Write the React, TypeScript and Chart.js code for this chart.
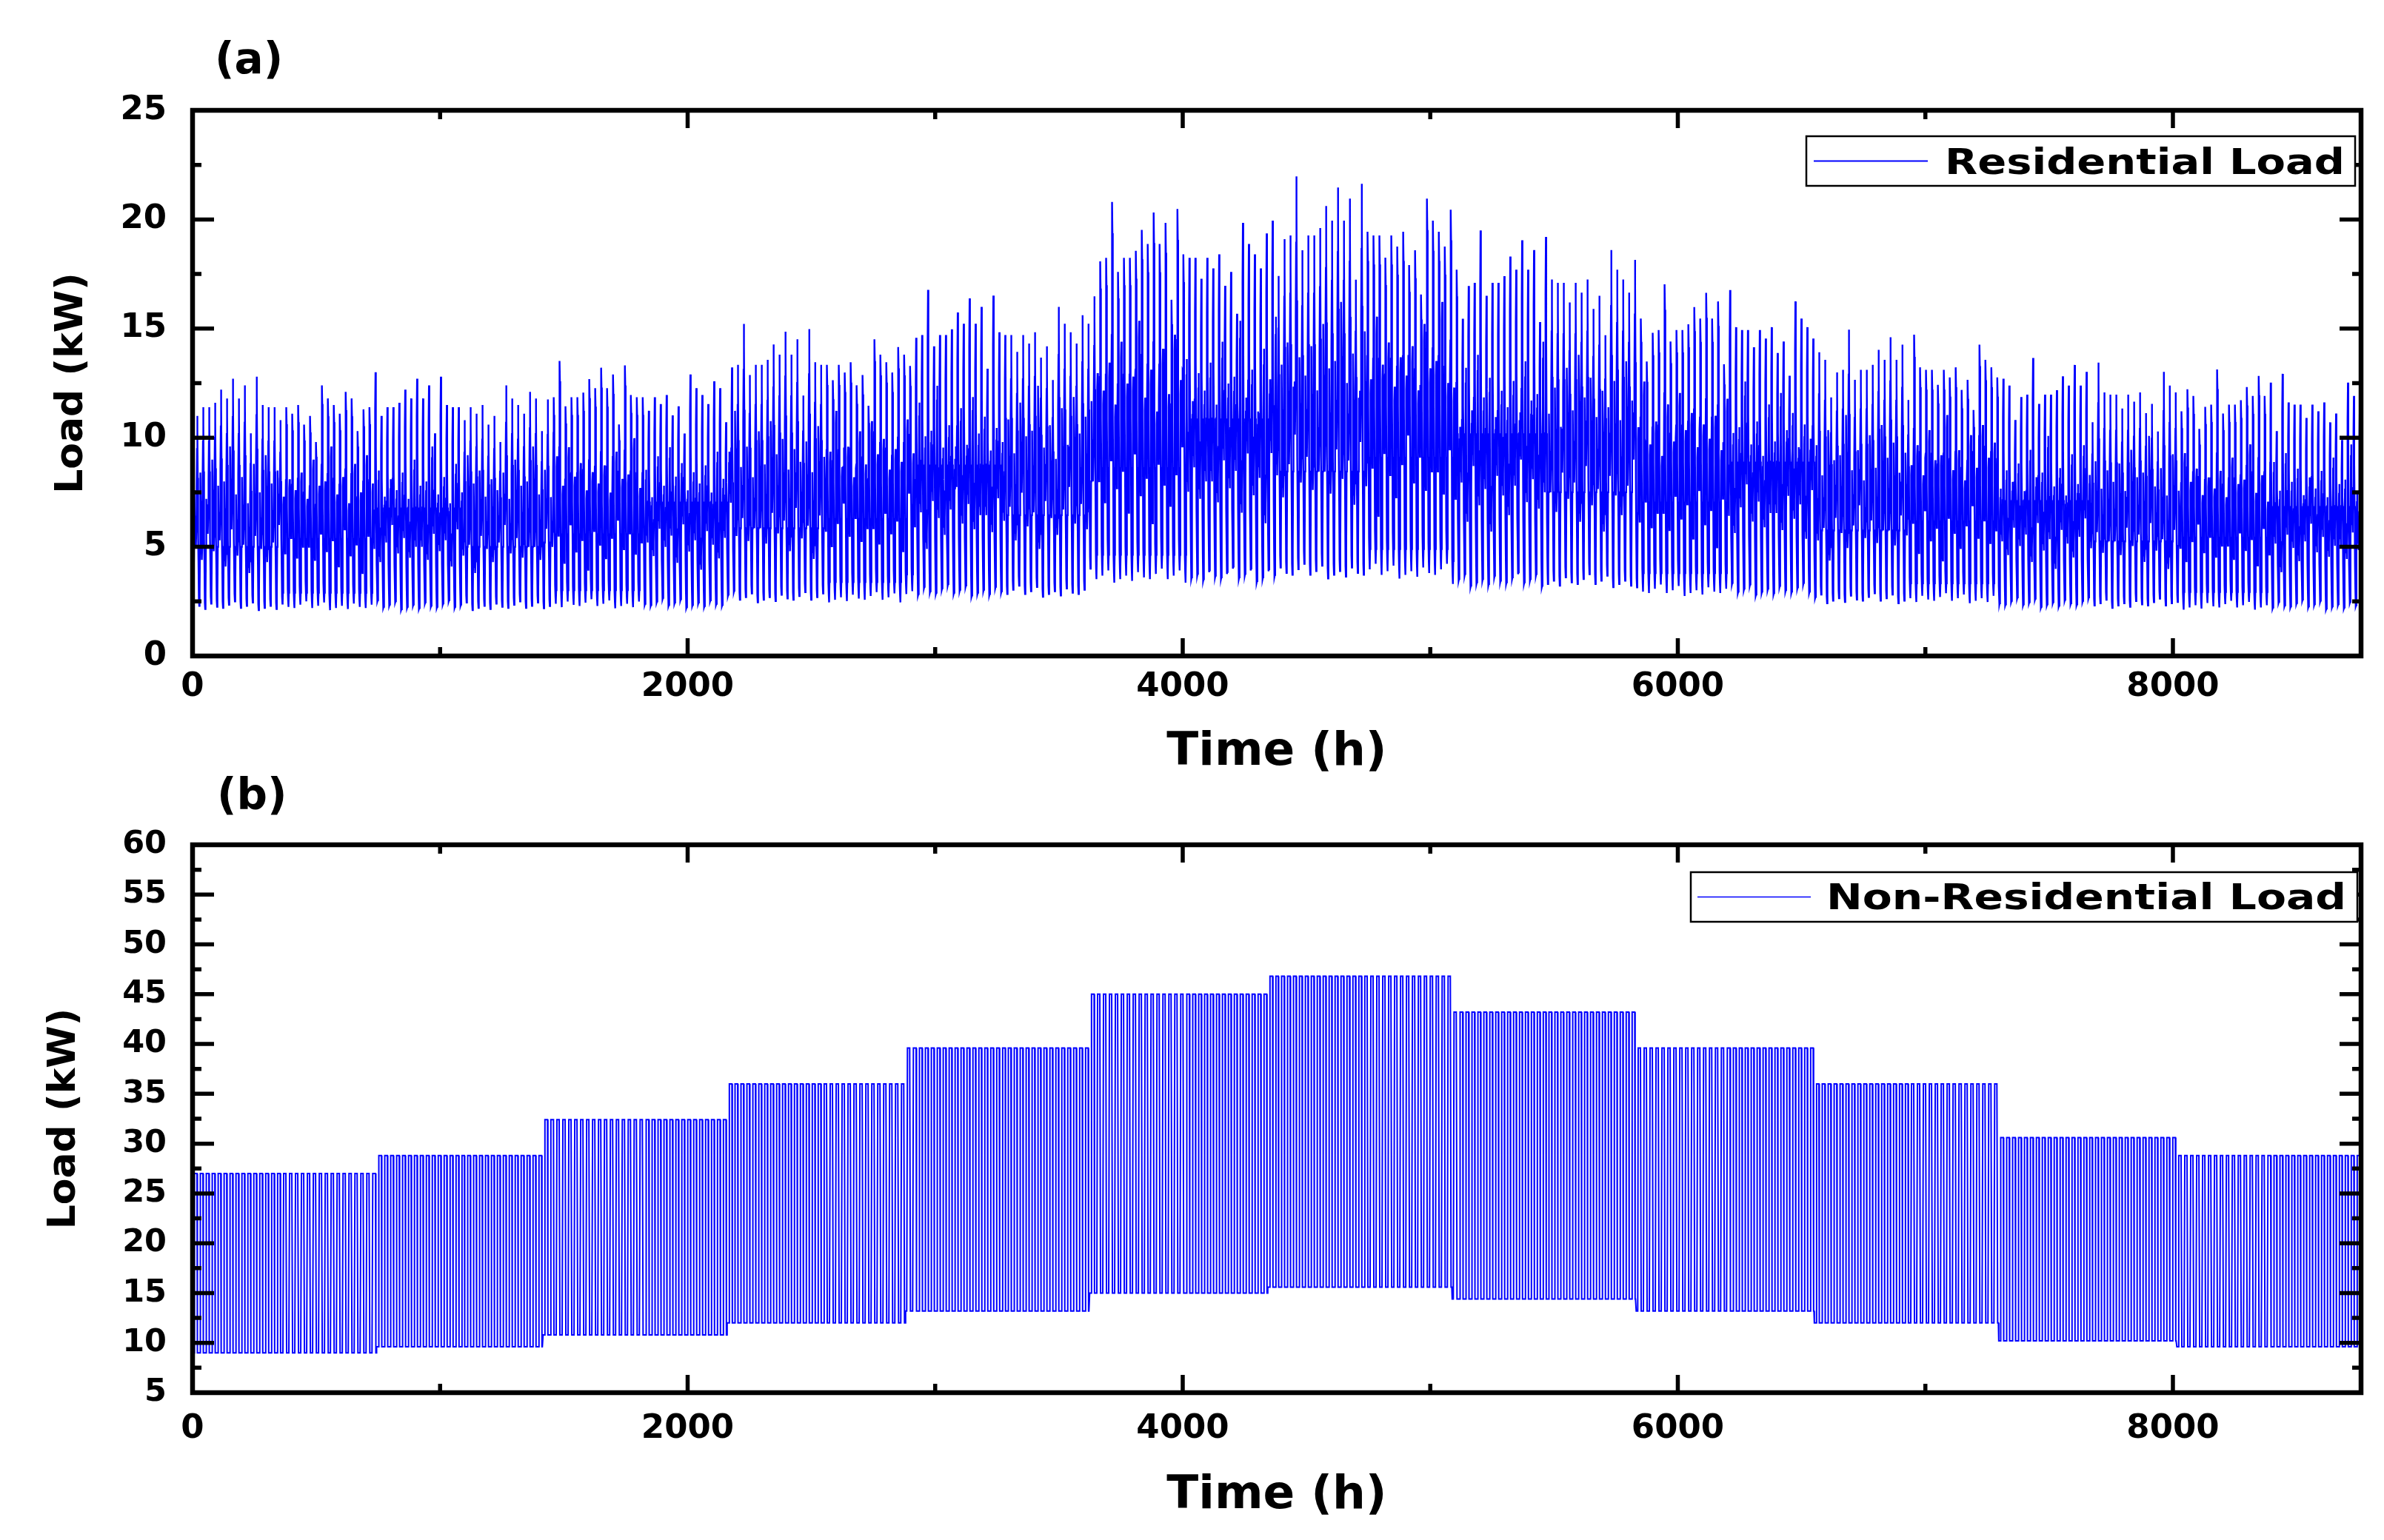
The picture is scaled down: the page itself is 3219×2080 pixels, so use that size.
import { useEffect, useRef } from "react";
import { Chart, registerables } from "chart.js";

Chart.register(...registerables);

const FONT = '"DejaVu Sans", "Liberation Sans", sans-serif';

// calendar of the year (hours are counted from 1 Jan 00:00)
const monthDays = [31, 28, 31, 30, 31, 30, 31, 31, 30, 31, 30, 31];

// axis ticks
const xTickValues = [0, 2000, 4000, 6000, 8000];
const xMinorValues = [1000, 3000, 5000, 7000];
const resYTicks = [0, 5, 10, 15, 20, 25];
const nonResYTicks = [5, 10, 15, 20, 25, 30, 35, 40, 45, 50, 55, 60];

// (a) residential load, a typical January day in kW, hour 0..23
const resHourProfile = [
  4.2, 3.0, 2.5, 2.2, 2.25, 2.9, 5.0, 7.4, 7.8, 6.6, 5.8, 5.3,
  6.2, 5.6, 5.0, 5.7, 6.8, 8.2, 10.0, 11.6, 10.8, 8.6, 6.8, 5.4,
];
// which day-to-day reading drives each hour: 0 none, 1 night, 2 morning, 3 midday, 4 evening
const resHourGroup = [0, 1, 1, 1, 1, 0, 0, 2, 2, 2, 3, 3, 3, 3, 3, 3, 3, 4, 4, 4, 4, 4, 0, 0];
const resNightLow = [2.2, 2.3, 2.15, 2.4, 2.25, 2.2, 2.35, 2.5, 2.2, 2.3, 2.45, 2.1];
// morning peaks (kW)
const resMorningPeak = [7.6, 8.4, 7.2, 9.0, 7.8, 8.0, 9.6, 7.4, 8.2, 7.0, 8.8, 7.5, 9.2, 7.9, 8.5, 7.3, 8.1];
// midday floor (kW)
const resMiddayLevel = [5.0, 4.4, 5.6, 4.8, 5.3, 4.1, 5.8, 4.6, 5.1, 3.8, 5.5, 4.9, 4.3, 5.2, 6.0, 4.7, 5.4, 4.5, 5.0];
const resEveningPeak = [
  11.0, 11.4, 11.4, 11.6, 12.2, 11.8, 12.7, 11.8, 12.4, 10.2, 12.8, 11.5, 11.4, 11.4, 10.8, 11.4,
  11.1, 11.5, 10.6, 11.0, 9.8, 12.4, 11.8, 11.5, 11.1, 12.1, 11.8, 10.3, 11.3, 11.4, 13.0,
];
// level of each month relative to January
const resMonthScale = [1.0, 1.0, 1.04, 1.17, 1.29, 1.6, 1.69, 1.5, 1.31, 1.15, 1.05, 1.01];

// (b) non-residential load, kW
const nonResHigh = [27.0, 28.8, 32.4, 36.0, 39.6, 45.0, 46.8, 43.2, 39.6, 36.0, 30.6, 28.8];
const nonResLow = [9.0, 9.6, 10.8, 12.0, 13.2, 15.0, 15.6, 14.4, 13.2, 12.0, 10.2, 9.6];
// 1 = working hours (high load)
const nonResOnHours = [0, 0, 0, 0, 0, 0, 0, 0, 1, 1, 1, 1, 1, 1, 1, 1, 1, 1, 1, 1, 0, 0, 0, 0];

type Pt = { x: number; y: number };

function buildResidential(): Pt[] {
  const pts: Pt[] = [];
  let hour = 0;
  let day = 0;
  monthDays.forEach((days, m) => {
    for (let d = 0; d < days; d++, day++) {
      const f = [
        1,
        resNightLow[day % resNightLow.length] / resHourProfile[3],
        resMorningPeak[day % resMorningPeak.length] / resHourProfile[8],
        resMiddayLevel[day % resMiddayLevel.length] / resHourProfile[14],
        resEveningPeak[day % resEveningPeak.length] / resHourProfile[19],
      ];
      resHourProfile.forEach((v, h) => {
        pts.push({ x: hour++, y: v * f[resHourGroup[h]] * resMonthScale[m] });
      });
    }
  });
  return pts;
}

function buildNonResidential(): Pt[] {
  const pts: Pt[] = [];
  let hour = 0;
  monthDays.forEach((days, m) => {
    for (let d = 0; d < days; d++) {
      nonResOnHours.forEach((on) => {
        pts.push({ x: hour++, y: on ? nonResHigh[m] : nonResLow[m] });
      });
    }
  });
  return pts;
}

type PanelOpts = {
  yTicks: number[];
  tag: string;
  tagX: number;
  tagBaseline: number;
  legendText: string;
  legendBox: [number, number, number, number]; // left, top, right, bottom
  legendLine: [number, number];
  legendTextX: [number, number];
  legendBaseline: number;
  legendLineWidth: number;
};

const framePlugin = {
  id: "frame",
  afterDatasetsDraw(chart: any, _args: any, opts: PanelOpts) {
    const { ctx, chartArea: a, scales } = chart;
    const xs = scales.x;
    const ys = scales.y;
    ctx.save();
    ctx.strokeStyle = "#000";
    ctx.lineCap = "butt";

    // inward ticks on all four sides
    ctx.lineWidth = 5.5;
    ctx.beginPath();
    const seg = (x1: number, y1: number, x2: number, y2: number) => {
      ctx.moveTo(x1, y1);
      ctx.lineTo(x2, y2);
    };
    xTickValues.forEach((v) => {
      const px = xs.getPixelForValue(v);
      seg(px, a.bottom, px, a.bottom - 24);
      seg(px, a.top, px, a.top + 24);
    });
    xMinorValues.forEach((v) => {
      const px = xs.getPixelForValue(v);
      seg(px, a.bottom, px, a.bottom - 12);
      seg(px, a.top, px, a.top + 12);
    });
    opts.yTicks.forEach((v, i) => {
      const py = ys.getPixelForValue(v);
      seg(a.left, py, a.left + 29, py);
      seg(a.right, py, a.right - 29, py);
      if (i < opts.yTicks.length - 1) {
        const pm = ys.getPixelForValue((v + opts.yTicks[i + 1]) / 2);
        seg(a.left, pm, a.left + 12, pm);
        seg(a.right, pm, a.right - 12, pm);
      }
    });
    ctx.stroke();

    ctx.lineWidth = 6.5;
    ctx.strokeRect(a.left, a.top, a.right - a.left, a.bottom - a.top);

    // legend
    const [bl, bt, br, bb] = opts.legendBox;
    ctx.fillStyle = "#fff";
    ctx.fillRect(bl, bt, br - bl, bb - bt);
    ctx.lineWidth = 2.5;
    ctx.strokeRect(bl, bt, br - bl, bb - bt);
    ctx.strokeStyle = "#0000ff";
    ctx.lineWidth = opts.legendLineWidth;
    ctx.beginPath();
    ctx.moveTo(opts.legendLine[0], (bt + bb) / 2);
    ctx.lineTo(opts.legendLine[1], (bt + bb) / 2);
    ctx.stroke();

    ctx.fillStyle = "#000";
    ctx.font = `bold 48px ${FONT}`;
    ctx.textBaseline = "alphabetic";
    ctx.textAlign = "left";
    const w = ctx.measureText(opts.legendText).width;
    const sx = (opts.legendTextX[1] - opts.legendTextX[0]) / w;
    ctx.save();
    ctx.translate(opts.legendTextX[0], opts.legendBaseline);
    ctx.scale(sx, 1);
    ctx.fillText(opts.legendText, 0, 0);
    ctx.restore();

    // panel tag
    ctx.font = `bold 58px ${FONT}`;
    ctx.fillText(opts.tag, opts.tagX, opts.tagBaseline);
    ctx.restore();
  },
};

type PanelProps = {
  top: number;
  height: number;
  data: Pt[];
  yMin: number;
  yMax: number;
  yTickSize: number;
  padTop: number;
  xAxisHeight: number;
  xTickPad: number;
  xTitlePad: number;
  yTitlePad: number;
  lineWidth: number;
  frame: PanelOpts;
};

function LoadPanel(p: PanelProps) {
  const canvasRef = useRef<HTMLCanvasElement>(null);

  useEffect(() => {
    if (!canvasRef.current) return;
    const chart = new Chart(canvasRef.current, {
      type: "line",
      data: {
        datasets: [
          {
            label: p.frame.legendText,
            data: p.data,
            borderColor: "#0000ff",
            borderWidth: p.lineWidth,
            pointRadius: 0,
            tension: 0,
            fill: false,
          },
        ],
      },
      plugins: [framePlugin],
      options: {
        animation: false,
        responsive: false,
        devicePixelRatio: 1,
        parsing: false,
        normalized: true,
        events: [],
        layout: { padding: { top: p.padTop, right: 31, bottom: 0, left: 0 } },
        plugins: {
          legend: { display: false },
          tooltip: { enabled: false },
          frame: p.frame,
        } as any,
        scales: {
          x: {
            type: "linear",
            min: 0,
            max: 8760,
            grid: { display: false, drawTicks: false },
            border: { display: false },
            afterBuildTicks: (s: any) => {
              s.ticks = xTickValues.map((value) => ({ value }));
            },
            afterFit: (s: any) => {
              s.height = p.xAxisHeight;
            },
            ticks: {
              autoSkip: false,
              maxRotation: 0,
              padding: p.xTickPad,
              color: "#000",
              font: { family: FONT, size: 45, weight: "bold" },
              callback: (v: any) => String(v),
            },
            title: {
              display: true,
              text: "Time (h)",
              color: "#000",
              font: { family: FONT, size: 63, weight: "bold" },
              padding: { top: 0, bottom: p.xTitlePad },
            },
          },
          y: {
            type: "linear",
            min: p.yMin,
            max: p.yMax,
            grid: { display: false, drawTicks: false },
            border: { display: false },
            afterBuildTicks: (s: any) => {
              s.ticks = p.frame.yTicks.map((value) => ({ value }));
            },
            afterFit: (s: any) => {
              s.width = 260;
            },
            ticks: {
              padding: 35,
              color: "#000",
              font: { family: FONT, size: p.yTickSize, weight: "bold" },
              callback: (v: any) => String(v),
            },
            title: {
              display: true,
              text: "Load (kW)",
              color: "#000",
              font: { family: FONT, size: 52, weight: "bold" },
              padding: { top: p.yTitlePad, bottom: 0 },
            },
          },
        },
      } as any,
    });
    return () => chart.destroy();
  }, []);

  return (
    <canvas
      ref={canvasRef}
      width={3219}
      height={p.height}
      style={{ position: "absolute", left: 0, top: p.top, width: 3219, height: p.height }}
    />
  );
}

export default function App() {
  const resData = buildResidential();
  const nonResData = buildNonResidential();
  return (
    <div
      style={{
        position: "absolute",
        left: 0,
        top: 0,
        width: 3219,
        height: 2080,
        background: "#fff",
        overflow: "hidden",
      }}
    >
      <LoadPanel
        top={0}
        height={1060}
        data={resData}
        yMin={0}
        yMax={25}
        yTickSize={45}
        padTop={149}
        xAxisHeight={174}
        xTickPad={15}
        xTitlePad={6}
        yTitlePad={66}
        lineWidth={2.4}
        frame={{
          yTicks: resYTicks,
          tag: "(a)",
          tagX: 290,
          tagBaseline: 99,
          legendText: "Residential Load",
          legendBox: [2439, 184, 3180, 251],
          legendLine: [2449, 2603],
          legendTextX: [2626, 3166],
          legendBaseline: 235,
          legendLineWidth: 2,
        }}
      />
      <LoadPanel
        top={1030}
        height={1050}
        data={nonResData}
        yMin={5}
        yMax={60}
        yTickSize={43}
        padTop={111}
        xAxisHeight={199}
        xTickPad={22}
        xTitlePad={22}
        yTitlePad={56}
        lineWidth={2}
        frame={{
          yTicks: nonResYTicks,
          tag: "(b)",
          tagX: 293,
          tagBaseline: 63,
          legendText: "Non-Residential Load",
          legendBox: [2283, 148, 3183, 215],
          legendLine: [2292, 2445],
          legendTextX: [2466, 3168],
          legendBaseline: 198,
          legendLineWidth: 1.5,
        }}
      />
    </div>
  );
}
